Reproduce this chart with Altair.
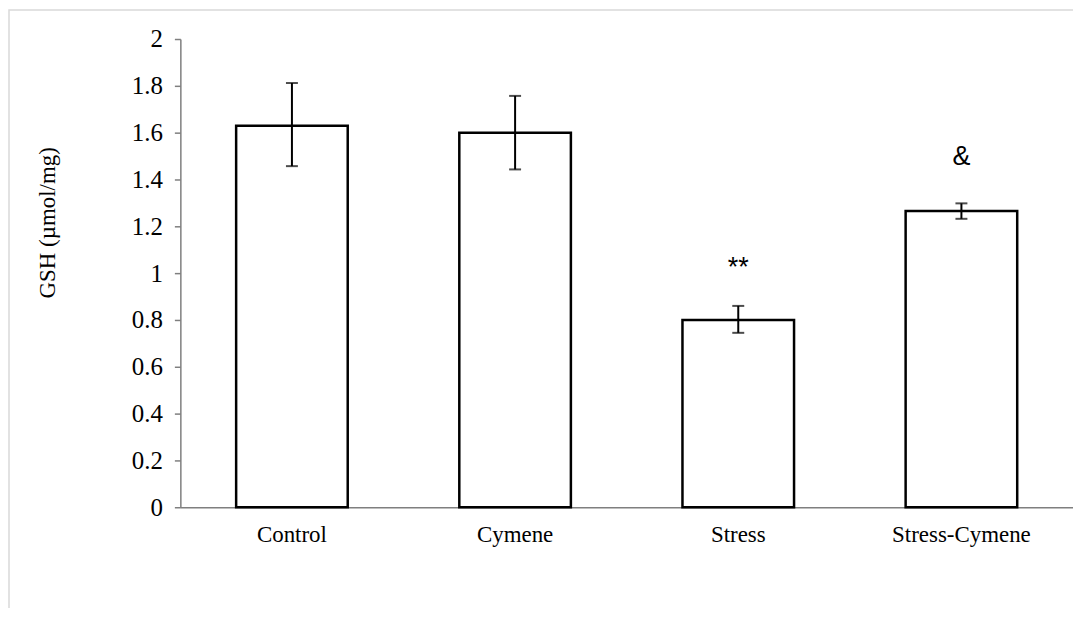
import altair as alt
import pandas as pd

groups = ["Control", "Cymene", "Stress", "Stress-Cymene"]
means = [1.63, 1.60, 0.80, 1.265]
err_low = [1.457, 1.443, 0.745, 1.232]
err_high = [1.812, 1.757, 0.860, 1.298]
marks_text = ["", "", "**", "&"]
marks_y = [None, None, 1.02, 1.494]

df = pd.DataFrame({"group": groups, "mean": means, "lo": err_low, "hi": err_high})
ann = pd.DataFrame({"group": groups, "label": marks_text, "y": marks_y}).dropna()

serif = "Liberation Serif"

x = alt.X("group:N", sort=groups,
          scale=alt.Scale(paddingInner=0.5, paddingOuter=0.25),
          axis=alt.Axis(title=None, labelAngle=0, labelFont=serif, labelFontSize=23,
                        labelColor="#000000", labelPadding=16, ticks=False,
                        domainColor="#7f7f7f", domainWidth=1.5))

bars = alt.Chart(df).mark_bar(fill="white", stroke="black", strokeWidth=2.5).encode(
    x=x,
    y=alt.Y("mean:Q", scale=alt.Scale(domain=[0, 2]),
            axis=alt.Axis(title="GSH (µmol/mg)", values=[0, 0.2, 0.4, 0.6, 0.8, 1, 1.2, 1.4, 1.6, 1.8, 2],
                          format="~g", grid=False, labelFont=serif, labelFontSize=25,
                          labelColor="#000000", labelPadding=12, tickSize=6, tickColor="#7f7f7f",
                          domainColor="#7f7f7f", domainWidth=1.5, tickWidth=1.5,
                          titleFont=serif, titleFontSize=23, titleFontWeight="normal",
                          titleColor="#000000", titleX=-133, titleY=184, titleAngle=-90,
                          titleAlign="center", titleBaseline="middle")),
)

rules = alt.Chart(df).mark_rule(color="black", strokeWidth=2).encode(
    x=alt.X("group:N", sort=groups), y="lo:Q", y2="hi:Q")
cap_lo = alt.Chart(df).mark_tick(color="black", thickness=2, size=12, orient="horizontal").encode(
    x=alt.X("group:N", sort=groups), y="lo:Q")
cap_hi = alt.Chart(df).mark_tick(color="black", thickness=2, size=12, orient="horizontal").encode(
    x=alt.X("group:N", sort=groups), y="hi:Q")

text = alt.Chart(ann).mark_text(font="Liberation Sans", fontSize=27, color="black",
                                baseline="middle", align="center").encode(
    x=alt.X("group:N", sort=groups), y="y:Q", text="label:N")

frame = alt.Chart(pd.DataFrame({"a": [0]})).mark_rect(
    fill=None, stroke="#d9d9d9", strokeWidth=1.5).encode(
    x=alt.value(-172), x2=alt.value(1000), y=alt.value(-29), y2=alt.value(700))

chart = alt.layer(frame, bars, rules, cap_lo, cap_hi, text).properties(
    width=896, height=470,
    autosize=alt.AutoSizeParams(type="none"),
    padding={"left": 173, "top": 30, "right": 0, "bottom": 100},
).configure_view(stroke=None)

chart.save("out.html", embed_options={"renderer": "svg", "actions": False})
